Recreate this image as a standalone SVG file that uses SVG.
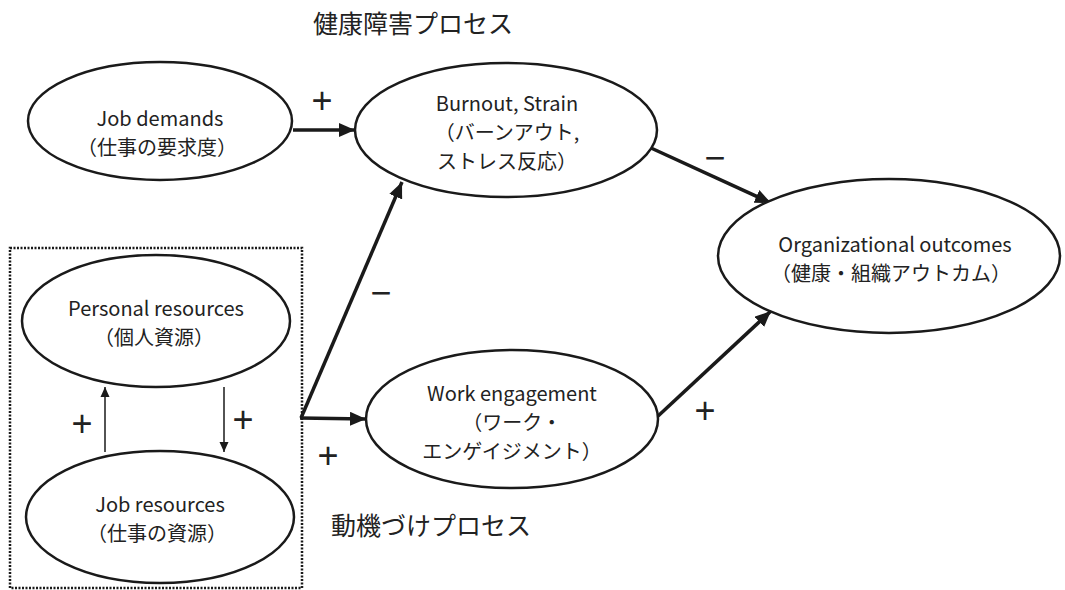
<svg xmlns="http://www.w3.org/2000/svg" width="1065" height="590" viewBox="0 0 1065 590">
<style>
.node{fill:#fff;stroke:#1a1a1a;stroke-width:2.5}
.t{font-family:"Noto Sans CJK JP","Noto Sans",sans-serif;font-size:20px;fill:#222;text-anchor:middle;dominant-baseline:central}
.title{font-family:"Noto Sans CJK JP",sans-serif;font-size:25px;fill:#222;dominant-baseline:central}
.sign{font-family:"Liberation Sans",sans-serif;font-size:36px;fill:#222;text-anchor:middle;dominant-baseline:central}
.thick{stroke:#1a1a1a;stroke-width:3.5;fill:none}
.thin{stroke:#1a1a1a;stroke-width:1.5;fill:none}
</style>
<defs>
<marker id="ah" markerUnits="userSpaceOnUse" markerWidth="18" markerHeight="14" refX="16" refY="7" orient="auto">
<path d="M0,0 L16,7 L0,14 Z" fill="#1a1a1a"/>
</marker>
<marker id="ahs" markerUnits="userSpaceOnUse" markerWidth="10" markerHeight="10" refX="10" refY="5" orient="auto">
<path d="M0,0.5 L10,5 L0,9.5 Z" fill="#1a1a1a"/>
</marker>
</defs>
<rect x="10" y="248" width="292" height="340" fill="none" stroke="#1a1a1a" stroke-width="2.5" stroke-dasharray="2,1.5"/>
<text class="title" x="313" y="22">健康障害プロセス</text>
<text class="title" x="331" y="524">動機づけプロセス</text>
<g id="connectors">
<line class="thick" x1="293" y1="130" x2="355" y2="130" marker-end="url(#ah)"/>
<polyline class="thick" points="301,418 402,182" marker-end="url(#ah)"/>
<line class="thick" x1="300" y1="418" x2="366" y2="419" marker-end="url(#ah)"/>
<line class="thick" x1="651" y1="148" x2="771" y2="203" marker-end="url(#ah)"/>
<line class="thick" x1="657" y1="417" x2="771" y2="311" marker-end="url(#ah)"/>
<line class="thin" x1="105" y1="452" x2="105" y2="387" marker-end="url(#ahs)"/>
<line class="thin" x1="224" y1="387" x2="224" y2="452" marker-end="url(#ahs)"/>
<text class="sign" x="322" y="100">+</text>
<text class="sign" x="715" y="157">−</text>
<text class="sign" x="381" y="292">−</text>
<text class="sign" x="328" y="455">+</text>
<text class="sign" x="705" y="410">+</text>
<text class="sign" x="82" y="423">+</text>
<text class="sign" x="243" y="419">+</text>
</g>
<g id="job-demands">
<ellipse class="node" cx="160" cy="121" rx="132" ry="59"/>
<text class="t" x="160" y="117">Job demands</text>
<text class="t" x="157" y="146">（仕事の要求度）</text>
</g>
<g id="burnout">
<ellipse class="node" cx="506" cy="130" rx="151" ry="67"/>
<text class="t" x="507" y="102">Burnout, Strain</text>
<text class="t" x="507" y="131">（バーンアウト,</text>
<text class="t" x="507" y="160">ストレス反応）</text>
</g>
<g id="org-outcomes">
<ellipse class="node" cx="889" cy="256" rx="171" ry="77"/>
<text class="t" x="895" y="243">Organizational outcomes</text>
<text class="t" x="891" y="272">（健康・組織アウトカム）</text>
</g>
<g id="personal-resources">
<ellipse class="node" cx="156" cy="321" rx="134" ry="66"/>
<text class="t" x="156" y="307">Personal resources</text>
<text class="t" x="154" y="336">（個人資源）</text>
</g>
<g id="job-resources">
<ellipse class="node" cx="160" cy="517" rx="134" ry="66"/>
<text class="t" x="160" y="503">Job resources</text>
<text class="t" x="157" y="532">（仕事の資源）</text>
</g>
<g id="work-engagement">
<ellipse class="node" cx="512" cy="419" rx="146" ry="69"/>
<text class="t" x="512" y="392">Work  engagement</text>
<text class="t" x="512" y="421">（ワーク・</text>
<text class="t" x="512" y="450">エンゲイジメント）</text>
</g>
</svg>
